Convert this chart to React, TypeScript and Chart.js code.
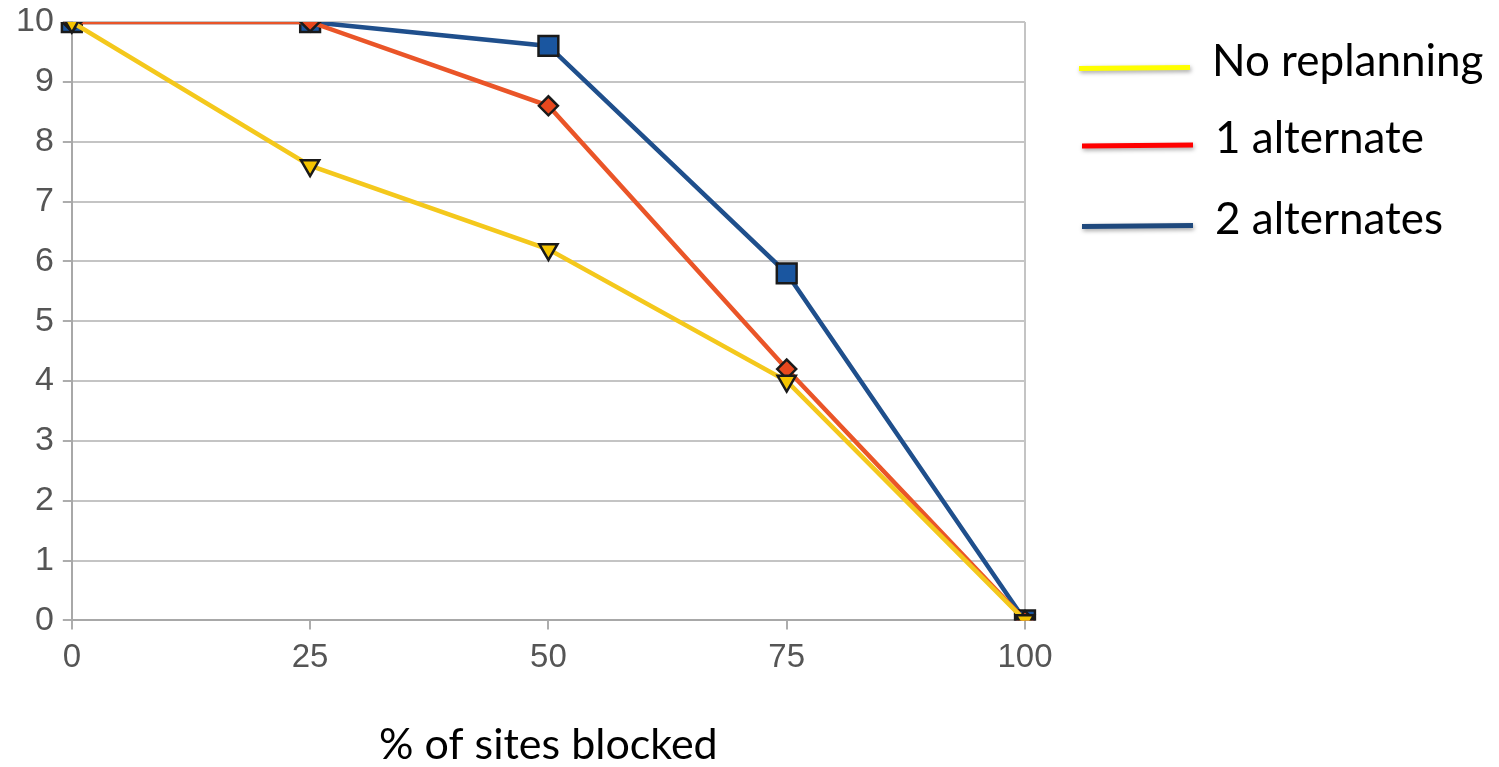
import React, { useEffect, useRef } from "react";
import { Chart, registerables } from "chart.js";

Chart.register(...registerables);

const categories = ["0", "25", "50", "75", "100"];
const seriesNames = ["No replanning", "1 alternate", "2 alternates"];
const noReplanning = [10, 7.6, 6.2, 4.0, 0];
const oneAlternate = [10, 10, 8.6, 4.2, 0];
const twoAlternates = [10, 10, 9.6, 5.8, 0];
const yTicks = [0, 1, 2, 3, 4, 5, 6, 7, 8, 9, 10];

const lineColors = ["#f4c81c", "#ea5528", "#1f4f8c"];
const markerFills = ["#f5c400", "#e8481e", "#1a56a0"];
const legendColors = ["#ffff00", "#ff0000", "#1f497d"];

const legendPlugin = {
  id: "sideLegend",
  afterDraw(chart: any) {
    const ctx = chart.ctx as CanvasRenderingContext2D;
    const rows = [
      { x1: 1079, x2: 1190, ly: 68, tx: 1212, ty: 76 },
      { x1: 1082, x2: 1193, ly: 145.5, tx: 1215, ty: 153 },
      { x1: 1082, x2: 1193, ly: 226, tx: 1215, ty: 234 },
    ];
    ctx.save();
    rows.forEach((r, i) => {
      ctx.save();
      ctx.shadowColor = "rgba(0,0,0,0.35)";
      ctx.shadowBlur = 4;
      ctx.shadowOffsetY = 2;
      ctx.shadowOffsetX = 1;
      ctx.strokeStyle = legendColors[i];
      ctx.lineWidth = 5;
      ctx.beginPath();
      ctx.moveTo(r.x1, r.ly + 0.5);
      ctx.lineTo(r.x2, r.ly - 0.5);
      ctx.stroke();
      ctx.restore();
      ctx.fillStyle = "#000000";
      ctx.font = "44px Lato";
      ctx.textBaseline = "alphabetic";
      ctx.textAlign = "left";
      ctx.fillText(seriesNames[i], r.tx, r.ty);
    });
    ctx.restore();
  },
};

export default function App() {
  const canvasRef = useRef<HTMLCanvasElement | null>(null);

  useEffect(() => {
    if (!canvasRef.current) return;
    const chart = new Chart(canvasRef.current, {
      type: "line",
      data: {
        labels: categories,
        datasets: [
          {
            label: seriesNames[0],
            data: noReplanning,
            borderColor: lineColors[0],
            backgroundColor: markerFills[0],
            borderWidth: 4.5,
            pointStyle: "triangle",
            rotation: 180,
            pointRadius: 10.5,
            pointBorderColor: "#1a1a1a",
            pointBorderWidth: 2.5,
            tension: 0,
          },
          {
            label: seriesNames[1],
            data: oneAlternate,
            borderColor: lineColors[1],
            backgroundColor: markerFills[1],
            borderWidth: 4.5,
            pointStyle: "rectRot",
            pointRadius: 9.5,
            pointBorderColor: "#1a1a1a",
            pointBorderWidth: 2.5,
            tension: 0,
          },
          {
            label: seriesNames[2],
            data: twoAlternates,
            borderColor: lineColors[2],
            backgroundColor: markerFills[2],
            borderWidth: 4.5,
            pointStyle: "rect",
            pointRadius: 14,
            pointBorderColor: "#1a1a1a",
            pointBorderWidth: 2.5,
            tension: 0,
          },
        ],
      },
      options: {
        animation: false,
        responsive: true,
        maintainAspectRatio: false,
        layout: { padding: { left: 7, top: 22, right: 474, bottom: 0 } },
        plugins: {
          legend: { display: false },
          tooltip: { enabled: false },
          title: { display: false },
        },
        scales: {
          x: {
            type: "category",
            offset: false,
            grid: {
              color: (c: any) => (c.index === categories.length - 1 ? "#c4c4c4" : "rgba(0,0,0,0)"),
              tickColor: "#adadad",
              lineWidth: 2,
              tickLength: 9,
            },
            border: { color: "#a8a8a8", width: 2 },
            ticks: {
              color: "#555555",
              font: { family: "Liberation Sans", size: 33 },
              padding: 9,
              maxRotation: 0,
            },
            title: {
              display: true,
              text: "% of sites blocked",
              color: "#000000",
              font: { family: "Lato", size: 43, lineHeight: 1 },
              padding: { top: 37, bottom: 0 },
            },
          },
          y: {
            min: 0,
            max: 10,
            afterBuildTicks: (scale: any) => {
              scale.ticks = yTicks.map((v) => ({ value: v }));
            },
            afterFit: (scale: any) => {
              scale.paddingTop = 0;
            },
            grid: {
              color: "#c4c4c4",
              tickColor: "#adadad",
              lineWidth: 2,
              tickLength: 9,
            },
            border: { color: "#a8a8a8", width: 2 },
            ticks: {
              color: "#555555",
              font: { family: "Liberation Sans", size: 34 },
              padding: 9,
            },
          },
        },
      },
      plugins: [legendPlugin],
    });
    return () => chart.destroy();
  }, []);

  return (
    <div style={{ position: "fixed", left: 0, top: 0, width: 1499, height: 767, background: "#ffffff" }}>
      <canvas ref={canvasRef} />
    </div>
  );
}
